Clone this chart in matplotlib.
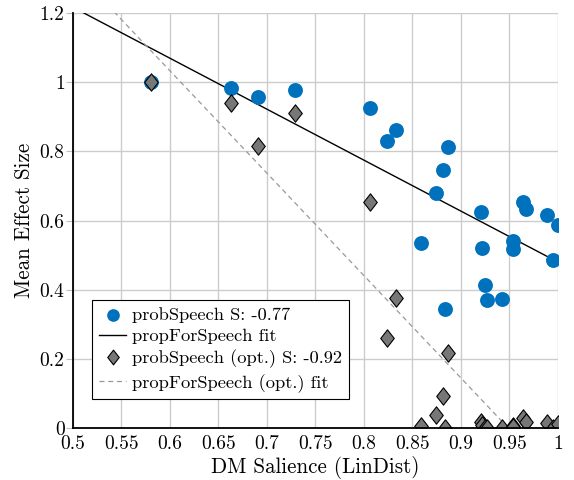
import numpy as np
import matplotlib
matplotlib.use("Agg")
import matplotlib.pyplot as plt
from matplotlib.ticker import FuncFormatter
from matplotlib.path import Path

plt.rcParams['font.family'] = ['cmr10', 'DejaVu Serif']
plt.rcParams['axes.formatter.use_mathtext'] = True
plt.rcParams['mathtext.fontset'] = 'cm'

# DM salience (LinDist) per item
salience = [0.580, 0.663, 0.691, 0.729, 0.806, 0.824, 0.833, 0.859, 0.874, 0.882,
            0.884, 0.887, 0.921, 0.922, 0.925, 0.927, 0.942, 0.954, 0.954, 0.964,
            0.967, 0.989, 0.995, 1.000]
effect = [1.000, 0.984, 0.957, 0.978, 0.925, 0.829, 0.862, 0.535, 0.679, 0.746,
          0.343, 0.814, 0.626, 0.520, 0.415, 0.371, 0.374, 0.542, 0.518, 0.653,
          0.634, 0.616, 0.487, 0.588]
effect_opt = [1.000, 0.939, 0.816, 0.912, 0.653, 0.260, 0.375, 0.006, 0.038, 0.094,
              0.001, 0.218, 0.018, 0.009, 0.000, 0.000, 0.000, 0.006, 0.004, 0.028,
              0.019, 0.015, 0.001, 0.012]

# linear fits (slope, intercept, x range)
fit = (-1.473, 1.953, 0.50, 0.995)
fit_opt = (-2.96, 2.809, 0.50, 0.945)

labels = ["probSpeech S: -0.77", "propForSpeech fit",
          "probSpeech (opt.) S: -0.92", "propForSpeech (opt.) fit"]

# slightly fat diamond like pgfplots' diamond marker
diamond = Path([(0, -1), (0.78, 0), (0, 1), (-0.78, 0), (0, -1)],
               [Path.MOVETO, Path.LINETO, Path.LINETO, Path.LINETO, Path.CLOSEPOLY])

fig = plt.figure(figsize=(5.74, 4.8), dpi=100)
ax = fig.add_axes([0.127, 0.108, 0.845, 0.865])

ax.scatter(salience, effect, s=115, color='#0072BD', linewidths=0, zorder=3, label=labels[0])
fx = np.linspace(fit[2], fit[3], 50)
ax.plot(fx, fit[0] * fx + fit[1], color='black', lw=1.0, zorder=2, label=labels[1])
ax.plot(salience, effect_opt, linestyle='none', marker=diamond, markersize=12.5,
        markerfacecolor='#777777', markeredgecolor='black', markeredgewidth=0.8,
        zorder=4, label=labels[2])
fx2 = np.linspace(fit_opt[2], fit_opt[3], 50)
ax.plot(fx2, fit_opt[0] * fx2 + fit_opt[1], color='#999999', lw=0.9,
        dashes=(4, 3), zorder=2, label=labels[3])

ax.set_xlim(0.5, 1.0)
ax.set_ylim(0, 1.2)
ax.set_xticks(np.arange(0.5, 1.001, 0.05))
ax.set_yticks(np.arange(0, 1.201, 0.2))
fmt = FuncFormatter(lambda v, p: '%g' % round(v, 2))
ax.xaxis.set_major_formatter(fmt)
ax.yaxis.set_major_formatter(fmt)
ax.tick_params(axis='both', labelsize=14, colors='#c0c0c0', labelcolor='black')
ax.tick_params(axis='x', length=0, pad=5)
ax.tick_params(axis='y', length=5, pad=1)

ax.grid(True, color='#cccccc', lw=1.0, zorder=0)
ax.set_axisbelow(True)
for s in ['top', 'right']:
    ax.spines[s].set_visible(False)
for s in ['left', 'bottom']:
    ax.spines[s].set_linewidth(1.3)
    ax.spines[s].set_zorder(5)

ax.set_xlabel('DM Salience (LinDist)', fontsize=15.2, labelpad=2)
ax.set_ylabel('Mean Effect Size', fontsize=15.2, labelpad=4)

leg = ax.legend(loc='lower left', bbox_to_anchor=(0.04, 0.07), fontsize=13.3,
                frameon=True, fancybox=False, edgecolor='black', framealpha=1,
                borderaxespad=0, handlelength=1.5, handletextpad=0.3,
                labelspacing=0.3, borderpad=0.35, markerscale=0.85)
leg.get_frame().set_linewidth(0.8)

fig.savefig('out.png', dpi=100)
